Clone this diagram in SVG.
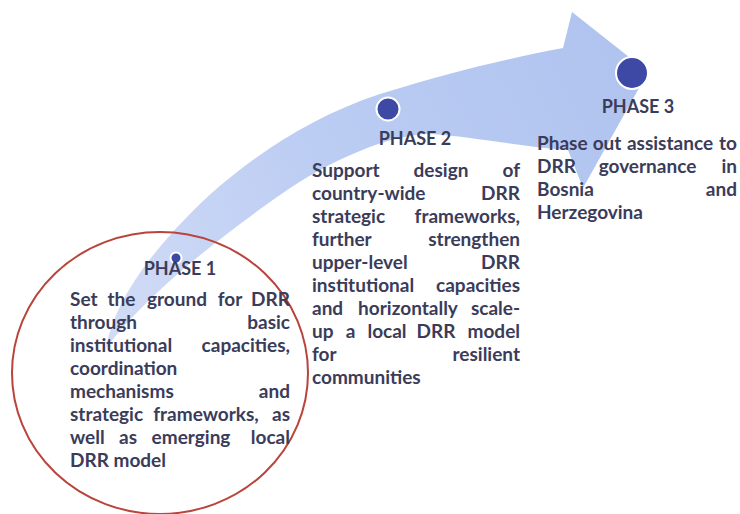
<svg xmlns="http://www.w3.org/2000/svg" width="740" height="514" viewBox="0 0 740 514">
  <style>
    .t { font-family: Lato, "Open Sans", "Liberation Sans", sans-serif; font-weight: bold; font-size: 19px; fill: #3a3c5a; }
    .h { font-family: Lato, "Open Sans", "Liberation Sans", sans-serif; font-weight: bold; font-size: 18px; fill: #3a3c5a; text-anchor: middle; }
    .m { text-anchor: middle; }
    .e { text-anchor: end; }
    .dot { fill: #3e49a6; stroke: #ffffff; stroke-width: 2; }
  </style>
  <defs>
    <linearGradient id="arrowGrad" x1="106" y1="348" x2="648" y2="60" gradientUnits="userSpaceOnUse">
      <stop offset="0" stop-color="#d2dcf6"/>
      <stop offset="0.45" stop-color="#bccdf3"/>
      <stop offset="1" stop-color="#afc3ef"/>
    </linearGradient>
  </defs>
  <rect width="740" height="514" fill="#ffffff"/>

  <g id="connectors">
    <path id="arrow" fill="url(#arrowGrad)" d="M106,348 C115,300 150,255 187,217 C230,172 300,120 380,94 C450,72 510,58 563,48 L572,12 L648,72 L583,188 L568,150 C520,147 470,136 430,134 C390,134 330,160 280,195 C230,230 150,290 106,348 Z"/>
  </g>

  <ellipse id="highlight-circle" cx="160" cy="373" rx="148" ry="141" fill="none" stroke="#b9443c" stroke-width="2"/>

  <g id="phase1">
    <circle class="dot" cx="176" cy="258" r="5.5"/>
    <text class="h" x="180" y="275">PHASE 1</text>
    <text class="t" x="70" y="306">Set</text>
    <text class="t m" x="121.5" y="306">the</text>
    <text class="t m" x="177" y="306">ground</text>
    <text class="t m" x="230" y="306">for</text>
    <text class="t e" x="290" y="306">DRR</text>
    <text class="t" x="70" y="329">through</text>
    <text class="t e" x="290" y="329">basic</text>
    <text class="t" x="70" y="352">institutional</text>
    <text class="t e" x="290" y="352">capacities,</text>
    <text class="t" x="70" y="375">coordination</text>
    <text class="t" x="70" y="398">mechanisms</text>
    <text class="t e" x="290" y="398">and</text>
    <text class="t" x="70" y="421">strategic</text>
    <text class="t m" x="206" y="421">frameworks,</text>
    <text class="t e" x="290" y="421">as</text>
    <text class="t" x="70" y="444">well</text>
    <text class="t m" x="128" y="444">as</text>
    <text class="t m" x="191" y="444">emerging</text>
    <text class="t e" x="290" y="444">local</text>
    <text class="t" x="70" y="467">DRR model</text>
  </g>

  <g id="phase2">
    <circle class="dot" cx="388" cy="109" r="11.5"/>
    <text class="h" x="415" y="145">PHASE 2</text>
    <text class="t" x="312" y="177">Support</text>
    <text class="t m" x="441" y="177">design</text>
    <text class="t e" x="520" y="177">of</text>
    <text class="t" x="312" y="200">country-wide</text>
    <text class="t e" x="520" y="200">DRR</text>
    <text class="t" x="312" y="223">strategic</text>
    <text class="t e" x="520" y="223">frameworks,</text>
    <text class="t" x="312" y="246">further</text>
    <text class="t e" x="520" y="246">strengthen</text>
    <text class="t" x="312" y="269">upper-level</text>
    <text class="t e" x="520" y="269">DRR</text>
    <text class="t" x="312" y="292">institutional</text>
    <text class="t e" x="520" y="292">capacities</text>
    <text class="t" x="312" y="315">and</text>
    <text class="t m" x="408" y="315">horizontally</text>
    <text class="t e" x="520" y="315">scale-</text>
    <text class="t" x="312" y="338">up</text>
    <text class="t m" x="350.5" y="338">a</text>
    <text class="t m" x="387" y="338">local</text>
    <text class="t m" x="436" y="338">DRR</text>
    <text class="t e" x="520" y="338">model</text>
    <text class="t" x="312" y="361">for</text>
    <text class="t e" x="520" y="361">resilient</text>
    <text class="t" x="312" y="384">communities</text>
  </g>

  <g id="phase3">
    <circle class="dot" cx="632" cy="73" r="16"/>
    <text class="h" x="638" y="113">PHASE 3</text>
    <text class="t" x="537" y="150">Phase</text>
    <text class="t m" x="607" y="150">out</text>
    <text class="t m" x="670" y="150">assistance</text>
    <text class="t e" x="737" y="150">to</text>
    <text class="t" x="537" y="173">DRR</text>
    <text class="t m" x="647.5" y="173">governance</text>
    <text class="t e" x="737" y="173">in</text>
    <text class="t" x="537" y="196">Bosnia</text>
    <text class="t e" x="737" y="196">and</text>
    <text class="t" x="537" y="219">Herzegovina</text>
  </g>
</svg>
